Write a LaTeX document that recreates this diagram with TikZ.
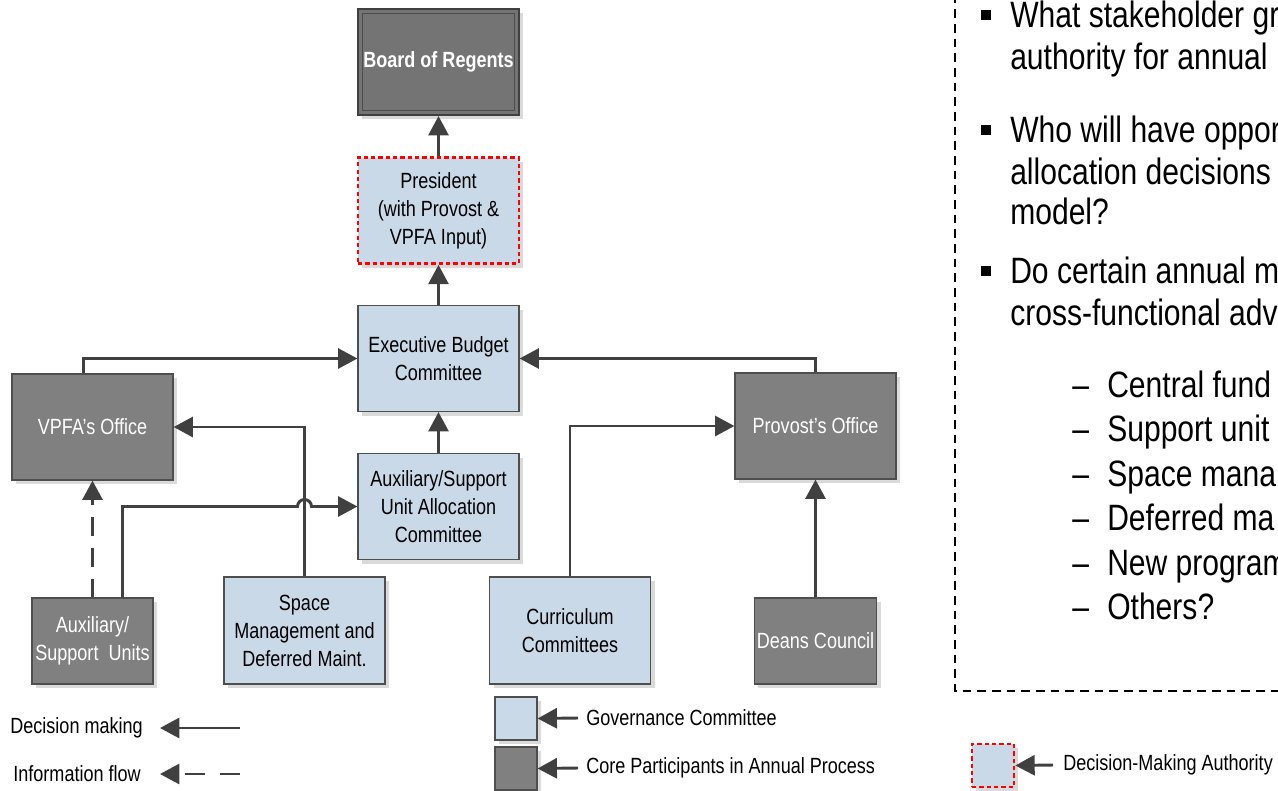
\documentclass[tikz,border=0pt]{standalone}
\usepackage{fontspec}
\setmainfont{Liberation Sans}[FakeStretch=0.82]
\usepackage{tikz}
\usetikzlibrary{arrows.meta}
\usetikzlibrary{shadows}

\definecolor{govblue}{RGB}{201,217,232}
\definecolor{coregray}{RGB}{128,128,128}
\definecolor{boardgray}{RGB}{116,116,116}
\definecolor{edgegray}{RGB}{78,78,78}
\definecolor{linkgray}{RGB}{64,64,64}
\definecolor{shadowgray}{RGB}{218,218,218}

\tikzset{
  box/.style={draw=edgegray, line width=0.9pt, align=center, inner sep=2pt,
    font=\fontsize{16.5}{21}\selectfont,
    drop shadow={shadow xshift=3pt, shadow yshift=-3pt, fill=shadowgray, opacity=1}},
  govbox/.style={box, fill=govblue, text=black},
  corebox/.style={box, fill=coregray, text=white},
  wide/.style={minimum width=120.75pt, minimum height=79.5pt},
  tall/.style={minimum width=120.75pt, minimum height=80.25pt},
  small/.style={minimum width=90.75pt, minimum height=64.5pt},
  keybox/.style={minimum width=31.5pt, minimum height=32.25pt},
  authority/.style={draw=red, dash pattern=on 3.2pt off 2.3pt, line width=2pt},
  decision/.style={draw=linkgray, line width=2.2pt, -{Triangle[length=14.5pt,width=15pt]}},
  infoflow/.style={decision, dash pattern=on 14pt off 9pt},
  legendtext/.style={font=\fontsize{16.5}{21}\selectfont, inner ysep=0pt},
  bulletmark/.style={fill=black, inner sep=0pt, minimum size=7.5pt},
  bullettext/.style={font=\fontsize{27.5}{33}\selectfont, anchor=base west, inner sep=0pt},
}

\begin{document}
\begin{tikzpicture}[x=0.75pt,y=0.75pt,yscale=-1,xscale=1]
\clip (0,0) rectangle (1278,790);

%Shape: Board of Regents
\node[corebox, wide, fill=boardgray, draw=black!75, line width=1.6pt] (board) at (438.5,62) {\bfseries Board of Regents};
\draw[black!70, line width=0.8pt] ([shift={(5.5,5.5)}]board.north west) rectangle ([shift={(-5.5,-5.5)}]board.south east);

%Shape: Governance column
\node[govbox, wide, authority] (president) at (438.5,210.5) {President\\(with Provost \&\\VPFA Input)};
\node[govbox, wide] (ebc) at (438.5,358.5) {Executive Budget\\Committee};
\node[govbox, wide] (asu) at (438.5,506.5) {Auxiliary/Support\\Unit Allocation\\Committee};

%Shape: Offices
\node[corebox, wide] (vpfa) at (92.5,427) {VPFA’s Office};
\node[corebox, wide] (prov) at (815.5,426) {Provost’s Office};

%Shape: Bottom row
\node[corebox, small] (aux) at (92.5,641) {Auxiliary/\\Support~~Units};
\node[govbox, tall] (space) at (304.5,630.5) {Space\\Management and\\Deferred Maint.};
\node[govbox, tall] (curr) at (570,630.5) {Curriculum\\Committees};
\node[corebox, small] (deans) at (815.5,641) {Deans Council};

% Connectors
\draw[decision] (president) -- (board);
\draw[decision] (ebc) -- (president);
\draw[decision] (asu) -- (ebc);
\draw[decision] ([xshift=-7pt]vpfa.north) |- (ebc.west);
\draw[decision] (prov.north) |- (ebc.east);
\draw[decision] (space.north) |- (vpfa.east);
\draw[decision] (curr.north) |- (prov.west);
\draw[decision] (deans) -- (prov);
\draw[infoflow] (aux) -- (vpfa);
\coordinate (hop) at (space.north |- asu.west);
\draw[decision] ([xshift=22.5pt]aux.north) |- ([xshift=-5.25pt]hop) arc[start angle=180, end angle=360, radius=7] -- (asu.west);

%Shape: Questions frame
\draw[black, line width=1.5pt, dash pattern=on 6.5pt off 4.5pt] (955,-20) rectangle (1300,691);

% Text Node
\node[bulletmark] (q1) at (985.5,15) {};
\node[bullettext] (q1a) at (1010,27) {What stakeholder gr};
\node[bullettext] (q1b) at (1010,69) {authority for annual};
\node[bulletmark] (q2) at (985.5,130) {};
\node[bullettext] (q2a) at (1010,142) {Who will have oppor};
\node[bullettext] (q2b) at (1010,184) {allocation decisions};
\node[bullettext] (q2c) at (1010,224) {model?};
\node[bulletmark] (q3) at (985.5,271) {};
\node[bullettext] (q3a) at (1010,283) {Do certain annual m};
\node[bullettext] (q3b) at (1010,325) {cross-functional adv};

% Text Node
\foreach \yy/\item [count=\i] in {397/Central fund, 441.5/Support unit, 486/Space mana, 530.5/Deferred ma, 575/New program, 619.5/Others?}{
  \node[bullettext] (d\i) at (1072,\yy) {–};
  \node[bullettext] (s\i) at (1107,\yy) {\item};
}

%Shape: Legend
\node[legendtext, anchor=east, inner xsep=12.75pt] (dm) at (160,728) {Decision making};
\coordinate (dmtail) at (240,728);
\draw[decision] (dmtail) -- (dm.east);
\node[legendtext, anchor=east, inner xsep=14.25pt] (ifl) at (160,774) {Information flow};
\coordinate (ifltail) at (240,774);
\draw[infoflow, dash pattern=on 15pt off 11pt] (ifltail) -- (ifl.east);

\node[govbox, keybox] (govkey) at (516,718.5) {};
\node[legendtext, anchor=west, inner xsep=6pt] (govlabel) at (578,718) {Governance Committee};
\draw[decision] (govlabel.west) -- (govkey.east);
\node[corebox, keybox] (corekey) at (516,768.5) {};
\node[legendtext, anchor=west, inner xsep=6pt] (corelabel) at (578,768) {Core Participants in Annual Process};
\draw[decision] (corelabel.west) -- (corekey.east);
\node[govbox, keybox, authority] (authkey) at (993,765.5) {};
\node[legendtext, anchor=west, inner xsep=7.5pt] (authlabel) at (1053,765) {Decision-Making Authority};
\draw[decision] (authlabel.west) -- (authkey.east);

\end{tikzpicture}
\end{document}
